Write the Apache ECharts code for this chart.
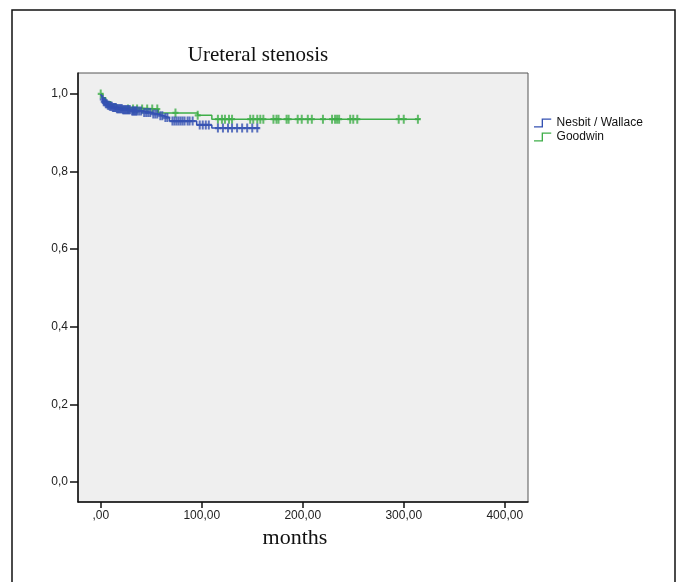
<!DOCTYPE html>
<html>
<head>
<meta charset="utf-8">
<title>Ureteral stenosis</title>
<script src="https://cdn.jsdelivr.net/npm/echarts@6/dist/echarts.min.js"></script>
<style>
  html, body { margin: 0; padding: 0; background: #fff; }
  #main { width: 677px; height: 582px; }
</style>
</head>
<body>
<div id="main"></div>
<script>
// Kaplan-Meier curves, months vs. survival free of stenosis
var xTicks = [0, 100, 200, 300, 400];
var yTicks = [0, 0.2, 0.4, 0.6, 0.8, 1.0];

// Nesbit / Wallace: event times and survival after each event
var nesbitTimes = [0, 1, 2, 3, 5, 7, 9, 12, 16, 22, 30, 42, 50, 57, 62, 68, 95, 110, 157];
var nesbitSurv  = [1.0, 0.993, 0.986, 0.980, 0.975, 0.971, 0.968, 0.965, 0.962, 0.959, 0.956, 0.952, 0.948, 0.944, 0.939, 0.930, 0.920, 0.912, 0.912];
var nesbitCensored = [2, 3, 4, 5, 6, 7, 8, 9, 10, 11, 12, 13, 14, 15, 16, 17, 18, 19, 20, 21, 22, 23, 24, 25,
  26, 27, 28, 29, 31, 32, 33, 34, 35, 36, 38, 40, 43, 45, 47, 49, 52, 54, 56, 59, 61, 64, 66, 71, 73, 75, 77,
  79, 81, 83, 86, 88, 91, 98, 101, 104, 107, 116, 121, 126, 130, 135, 140, 145, 150, 155];

// Goodwin
var goodwinTimes = [0, 2, 5, 10, 16, 24, 57, 96, 110, 316];
var goodwinSurv  = [1.0, 0.990, 0.980, 0.972, 0.966, 0.961, 0.951, 0.945, 0.935, 0.935];
var goodwinCensored = [0, 27, 32, 36, 41, 46, 51, 56, 74, 96, 116, 120, 123, 127, 130, 148, 151, 155, 158, 161,
  171, 174, 176, 184, 186, 195, 199, 205, 209, 220, 229, 232, 234, 236, 247, 250, 254, 295, 300, 314];

var blue = '#3451b2';
var green = '#3fae49';

// value of the step function at time t
function survAt(times, surv, t) {
    var s = surv[0];
    for (var i = 0; i < times.length; i++) {
        if (times[i] <= t) s = surv[i];
    }
    return s;
}

function curve(times, surv) {
    return times.map(function (t, i) { return [t, surv[i]]; });
}

function marks(times, surv, cens) {
    return cens.map(function (t) { return [t, survAt(times, surv, t)]; });
}

var plusSymbol = 'path://M2,0 H4 V3 H6 V5 H4 V8 H2 V5 H0 V3 H2 Z';
var stepIcon = 'path://M0,8 H8 V0 H18 V1.4 H9.4 V9.4 H0 Z';

var myChart = echarts.init(document.getElementById('main'), null, {renderer: 'canvas'});
myChart.setOption({
    animation: false,
    backgroundColor: '#ffffff',
    textStyle: {fontFamily: 'Liberation Sans, Arial, sans-serif'},
    graphic: [
        {
            type: 'rect',
            shape: {x: 12, y: 10, width: 663, height: 600},
            style: {fill: 'none', stroke: '#111', lineWidth: 1.5},
            silent: true
        },
        {
            type: 'text',
            x: 258, y: 55,
            style: {
                text: 'Ureteral stenosis',
                font: '21px "Liberation Serif", "Times New Roman", serif',
                fill: '#111',
                textAlign: 'center',
                textVerticalAlign: 'middle'
            }
        },
        {
            type: 'text',
            x: 295, y: 538,
            style: {
                text: 'months',
                font: '22px "Liberation Serif", "Times New Roman", serif',
                fill: '#111',
                textAlign: 'center',
                textVerticalAlign: 'middle'
            }
        }
    ],
    legend: {
        orient: 'vertical',
        left: 529,
        top: 112,
        itemGap: 2,
        itemWidth: 18,
        itemHeight: 9,
        textStyle: {fontSize: 12, color: '#111'},
        data: [
            {name: 'Nesbit / Wallace', icon: stepIcon},
            {name: 'Goodwin', icon: stepIcon}
        ]
    },
    grid: {
        left: 78,
        top: 73,
        width: 450,
        height: 429,
        show: true,
        backgroundColor: '#efefef',
        borderColor: '#555',
        borderWidth: 1
    },
    xAxis: {
        type: 'value',
        min: -22.5,
        max: 423,
        axisLine: {show: true, onZero: false, lineStyle: {color: '#111', width: 1.5}},
        axisTick: {show: true, length: 6, customValues: xTicks, lineStyle: {color: '#111', width: 1.5}},
        axisLabel: {
            customValues: xTicks,
            margin: 8,
            fontSize: 12,
            color: '#222',
            formatter: function (v) { return v === 0 ? ',00' : v + ',00'; }
        },
        splitLine: {show: false}
    },
    yAxis: {
        type: 'value',
        min: -0.052,
        max: 1.054,
        axisLine: {show: true, onZero: false, lineStyle: {color: '#111', width: 1.5}},
        axisTick: {show: true, length: 8, customValues: yTicks, lineStyle: {color: '#111', width: 1.5}},
        axisLabel: {
            customValues: yTicks,
            margin: 10,
            fontSize: 12,
            color: '#222',
            formatter: function (v) { return v.toFixed(1).replace('.', ','); }
        },
        splitLine: {show: false}
    },
    series: [
        {
            name: 'Goodwin',
            type: 'line',
            step: 'end',
            showSymbol: false,
            color: green,
            lineStyle: {width: 1.5, color: green},
            data: curve(goodwinTimes, goodwinSurv),
            z: 2
        },
        {
            name: 'Goodwin',
            type: 'scatter',
            symbol: plusSymbol,
            symbolSize: [6, 9],
            itemStyle: {color: green},
            data: marks(goodwinTimes, goodwinSurv, goodwinCensored),
            z: 3
        },
        {
            name: 'Nesbit / Wallace',
            type: 'line',
            step: 'end',
            showSymbol: false,
            color: blue,
            lineStyle: {width: 1.5, color: blue},
            data: curve(nesbitTimes, nesbitSurv),
            z: 4
        },
        {
            name: 'Nesbit / Wallace',
            type: 'scatter',
            symbol: plusSymbol,
            symbolSize: [6, 9],
            itemStyle: {color: blue},
            data: marks(nesbitTimes, nesbitSurv, nesbitCensored),
            z: 5
        }
    ]
});
</script>
</body>
</html>
